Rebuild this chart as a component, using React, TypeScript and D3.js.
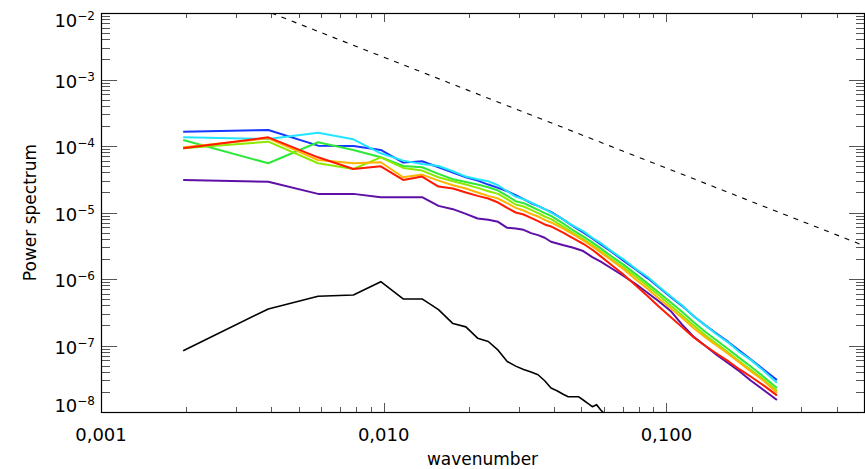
import * as d3 from 'd3';
import { useEffect } from 'react';

// wavenumber spacing of the spectra
const dk = 1 / 512;

// mode numbers sampled for the coloured spectra
const modes = [
  1, 2, 3, 4, 5, 6, 7, 8, 9, 10, 11, 12, 13, 14, 15, 16, 17, 18, 19, 20,
  22, 24, 26, 28, 30, 33, 36, 40, 44, 48, 53, 58, 64, 70, 77, 85, 93, 102, 113, 126,
];

// log10 of power
const purple = [
  -4.51, -4.537, -4.72, -4.72, -4.77, -4.77, -4.77, -4.9, -4.95, -5.02, -5.09, -5.11, -5.14, -5.23, -5.24, -5.26, -5.31, -5.34, -5.38, -5.44,
  -5.49, -5.53, -5.58, -5.67, -5.74, -5.85, -5.95, -6.08, -6.21, -6.33, -6.48, -6.68, -6.87, -7.0, -7.14, -7.27, -7.39, -7.53, -7.67, -7.82,
];
const blue = [
  -3.785, -3.76, -3.995, -4.0, -4.06, -4.25, -4.23, -4.32, -4.4, -4.47, -4.52, -4.58, -4.63, -4.68, -4.74, -4.8, -4.86, -4.9, -4.95, -4.99,
  -5.1, -5.21, -5.3, -5.39, -5.48, -5.6, -5.72, -5.86, -5.99, -6.12, -6.27, -6.4, -6.56, -6.69, -6.82, -6.95, -7.08, -7.21, -7.36, -7.52,
];
const cyan = [
  -3.87, -3.895, -3.8, -3.9, -4.11, -4.22, -4.27, -4.3, -4.38, -4.46, -4.5, -4.53, -4.59, -4.68, -4.76, -4.8, -4.85, -4.9, -4.95, -5.0,
  -5.1, -5.2, -5.28, -5.38, -5.46, -5.59, -5.7, -5.85, -5.97, -6.11, -6.26, -6.39, -6.56, -6.69, -6.83, -6.96, -7.1, -7.22, -7.38, -7.56,
];
const green = [
  -3.91, -4.26, -3.944, -4.06, -4.17, -4.3, -4.32, -4.42, -4.5, -4.54, -4.58, -4.62, -4.67, -4.75, -4.83, -4.86, -4.91, -4.96, -5.01, -5.05,
  -5.16, -5.27, -5.36, -5.45, -5.54, -5.67, -5.78, -5.93, -6.07, -6.2, -6.35, -6.49, -6.65, -6.79, -6.92, -7.06, -7.19, -7.32, -7.47, -7.64,
];
const lime = [
  -4.035, -3.935, -4.26, -4.346, -4.17, -4.33, -4.37, -4.47, -4.53, -4.58, -4.63, -4.68, -4.72, -4.8, -4.88, -4.91, -4.96, -5.01, -5.06, -5.1,
  -5.21, -5.31, -5.4, -5.49, -5.58, -5.71, -5.82, -5.97, -6.11, -6.24, -6.4, -6.54, -6.7, -6.84, -6.97, -7.11, -7.24, -7.37, -7.51, -7.68,
];
const orange = [
  -4.02, -3.885, -4.21, -4.26, -4.245, -4.47, -4.43, -4.52, -4.59, -4.64, -4.7, -4.75, -4.79, -4.86, -4.93, -4.97, -5.02, -5.06, -5.11, -5.15,
  -5.24, -5.33, -5.42, -5.51, -5.6, -5.73, -5.85, -6.01, -6.15, -6.29, -6.44, -6.58, -6.74, -6.87, -7.0, -7.13, -7.26, -7.39, -7.53, -7.71,
];
const red = [
  -4.035, -3.87, -4.17, -4.346, -4.305, -4.51, -4.46, -4.61, -4.64, -4.7, -4.75, -4.79, -4.85, -4.93, -5.0, -5.03, -5.08, -5.13, -5.18, -5.21,
  -5.3, -5.39, -5.47, -5.56, -5.66, -5.8, -5.93, -6.1, -6.26, -6.41, -6.57, -6.72, -6.88, -7.0, -7.12, -7.24, -7.36, -7.47, -7.6, -7.75,
];

// the black spectrum, mode numbers 1..31
const blackModes = [
  1, 2, 3, 4, 5, 6, 7, 8, 9, 10, 11, 12, 13, 14, 15, 16, 17, 18, 19, 20,
  21, 22, 23, 24, 25, 26, 27, 28, 29, 30, 31,
];
const black = [
  -7.08, -6.45, -6.26, -6.24, -6.04, -6.3, -6.3, -6.46, -6.67, -6.72, -6.89, -6.94, -7.07, -7.24, -7.31, -7.36, -7.4, -7.44, -7.53, -7.64,
  -7.68, -7.73, -7.77, -7.77, -7.77, -7.82, -7.87, -7.92, -7.89, -7.97, -8.03,
];

// k^-5/3 reference line end points
const refK = [0.004, 0.5];
const refP = [1e-2, 3.17e-6];

const xMajors = [0.001, 0.01, 0.1];
const xLabels = ['0,001', '0,010', '0,100'];
const yExponents = [-8, -7, -6, -5, -4, -3, -2];

const series = [
  { color: '#000000', width: 1.6, ks: blackModes, logs: black },
  { color: '#5e10a6', width: 2, ks: modes, logs: purple },
  { color: '#1638ff', width: 2, ks: modes, logs: blue },
  { color: '#22e4ff', width: 2, ks: modes, logs: cyan },
  { color: '#2ee83a', width: 2, ks: modes, logs: green },
  { color: '#8cea00', width: 2, ks: modes, logs: lime },
  { color: '#ffb400', width: 2, ks: modes, logs: orange },
  { color: '#ff1a00', width: 2, ks: modes, logs: red },
];

const font = 'DejaVu Sans, sans-serif';

export default function App() {
  useEffect(() => {
    document.body.style.margin = '0';
  }, []);

  const left = 101, right = 864, top = 13, bottom = 412;
  const x = d3.scaleLog().domain([0.001, 0.5]).range([left, right]);
  const y = d3.scaleLog().domain([1e-8, 1e-2]).range([bottom, top]);

  const line = d3.line<[number, number]>()
    .x((d) => x(d[0]))
    .y((d) => y(d[1]));

  const isMajor = (t: number) => Math.abs(Math.log10(t) - Math.round(Math.log10(t))) < 1e-6;
  const xTicks = x.ticks();
  const yTicks = y.ticks();

  return (
    <svg width={865} height={469} style={{ position: 'absolute', left: 0, top: 0, background: '#fff' }}>
      <defs>
        <clipPath id="plot">
          <rect x={left} y={top} width={right - left} height={bottom - top} />
        </clipPath>
      </defs>

      <g clipPath="url(#plot)" fill="none">
        <path
          d={line(refK.map((k, i) => [k, refP[i]]) as [number, number][]) || ''}
          stroke="#000"
          strokeWidth={1.1}
          strokeDasharray="5 6"
        />
        {series.map((s, i) => (
          <path
            key={i}
            d={line(s.ks.map((n, j) => [n * dk, Math.pow(10, s.logs[j])]) as [number, number][]) || ''}
            stroke={s.color}
            strokeWidth={s.width}
            strokeLinejoin="round"
          />
        ))}
      </g>

      {/* ticks */}
      <g stroke="#555" strokeWidth={1}>
        {xTicks.map((t, i) => {
          const px = Math.round(x(t)) + 0.5;
          const len = isMajor(t) ? 9 : 5;
          return (
            <g key={i}>
              <line x1={px} x2={px} y1={bottom} y2={bottom - len} />
              <line x1={px} x2={px} y1={top} y2={top + len} />
            </g>
          );
        })}
        {yTicks.map((t, i) => {
          const py = Math.round(y(t)) + 0.5;
          const major = isMajor(t);
          return (
            <g key={i}>
              <line x1={left} x2={left + (major ? 16 : 9)} y1={py} y2={py} />
              <line x1={right} x2={right - (major ? 15 : 8)} y1={py} y2={py} />
            </g>
          );
        })}
      </g>

      {/* frame */}
      <rect
        x={left + 0.5}
        y={top + 0.5}
        width={right - left}
        height={bottom - top}
        fill="none"
        stroke="#000"
        strokeWidth={1.2}
      />

      {/* x tick labels */}
      {xMajors.map((t, i) => (
        <text key={i} x={x(t)} y={441} textAnchor="middle" fontFamily={font} fontSize={18} fill="#000">
          {xLabels[i]}
        </text>
      ))}

      {/* y tick labels */}
      {yExponents.map((e, i) => {
        const nudge = i === 0 ? -7 : i === yExponents.length - 1 ? 7 : 1.5;
        const base = y(Math.pow(10, e)) + nudge + 6.5;
        return (
          <text key={e} x={95} y={base} textAnchor="end" fontFamily={font} fontSize={18} fill="#000">
            10
            <tspan fontSize={12} dy={-7}>{'\u2212' + Math.abs(e)}</tspan>
          </text>
        );
      })}

      <text x={(left + right) / 2} y={465} textAnchor="middle" fontFamily={font} fontSize={17} fill="#000">
        wavenumber
      </text>
      <text
        transform={`translate(36, ${(top + bottom) / 2}) rotate(-90)`}
        textAnchor="middle"
        fontFamily={font}
        fontSize={17}
        fill="#000"
      >
        Power spectrum
      </text>
    </svg>
  );
}
